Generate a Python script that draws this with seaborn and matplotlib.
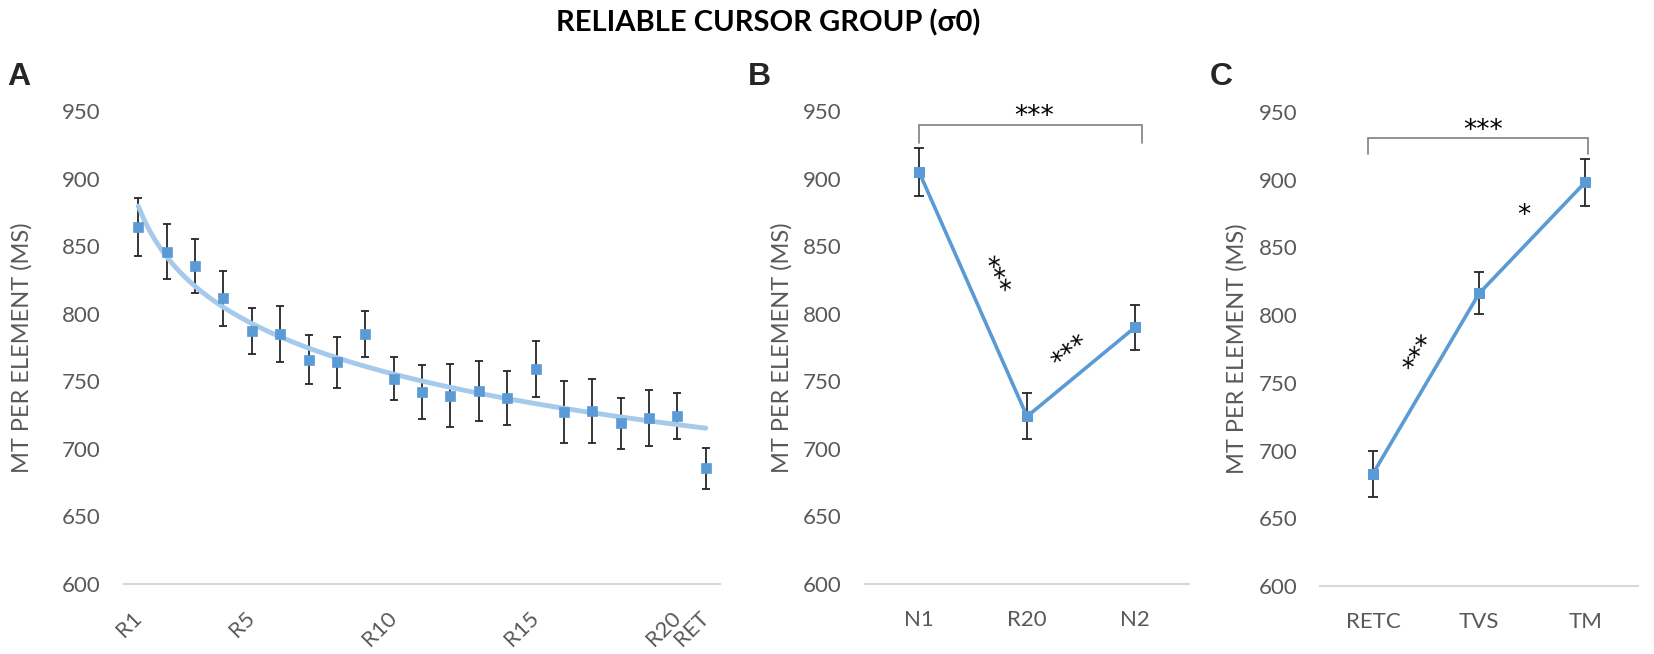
import numpy as np
import pandas as pd
import seaborn as sns
import matplotlib.pyplot as plt

# panel A: practice rounds + retention
rounds = ['R1', 'R2', 'R3', 'R4', 'R5', 'R6', 'R7', 'R8', 'R9', 'R10', 'R11',
          'R12', 'R13', 'R14', 'R15', 'R16', 'R17', 'R18', 'R19', 'R20', 'RET']
rounds_mt = [864, 846, 835, 811.5, 787, 785, 766, 764, 785, 752, 742,
             739.5, 743, 738, 759, 727, 728, 719, 723, 724, 685.5]
rounds_err = [21.5, 20.5, 20, 20.5, 17, 21, 18, 19, 17, 16, 20,
              23, 22, 20, 20.5, 23, 24, 19, 20.5, 17, 15]
shown_rounds = ['R1', 'R5', 'R10', 'R15', 'R20', 'RET']

# panel B
cond_b = ['N1', 'R20', 'N2']
mt_b = [905, 724, 790]
err_b = [17.5, 17, 16.5]

# panel C
cond_c = ['RETC', 'TVS', 'TM']
mt_c = [683, 816, 898]
err_c = [17, 15.5, 17.5]

sns.set_theme(style='white')
plt.rcParams['font.family'] = ['Lato', 'DejaVu Sans']

BLUE = '#5B9BD5'
TREND = '#A6CAEC'
GREY = '#595959'

fig = plt.figure(figsize=(16.54, 6.54), dpi=100)
ax_a = fig.add_axes([0.0750, 0.1070, 0.3603, 0.7232])
ax_b = fig.add_axes([0.5230, 0.1070, 0.1959, 0.7232])
ax_c = fig.add_axes([0.7981, 0.1040, 0.1923, 0.7248])


def style_axes(ax, label_x):
    for s in ['top', 'right', 'left']:
        ax.spines[s].set_visible(False)
    ax.spines['bottom'].set_color('#D9D9D9')
    ax.spines['bottom'].set_linewidth(1.5)
    ax.set_ylim(600, 950)
    ax.set_yticks(range(600, 951, 50))
    ax.tick_params(axis='both', length=0, labelsize=16, labelcolor=GREY)
    ax.tick_params(axis='y', pad=17)
    ax.set_ylabel('MT PER ELEMENT (MS)', fontsize=17, color=GREY)
    ax.yaxis.set_label_coords(label_x, 0.5)
    ax.yaxis.label.set_va('center')
    ax.set_xlabel('')


def stars(ax, x, y, s, rot=0):
    ax.text(x, y, s, fontsize=19, ha='center', va='center', rotation=rot,
            rotation_mode='anchor', color='black', family=['DejaVu Sans'])


def bracket(ax, x0, x1, y, drop):
    ax.plot([x0, x0, x1, x1], [y - drop, y, y, y - drop], color='#7F7F7F',
            lw=1.2, solid_joinstyle='miter')


# ---- A ----
df_a = pd.DataFrame({'x': np.arange(1, len(rounds) + 1), 'mt': rounds_mt, 'err': rounds_err})
ax_a.errorbar(df_a['x'], df_a['mt'], yerr=df_a['err'], fmt='none', ecolor='#262626',
              elinewidth=1.3, capsize=3, capthick=1.3, zorder=2)
sns.regplot(data=df_a, x='x', y='mt', logx=True, ci=None, scatter=False, ax=ax_a,
            line_kws={'color': TREND, 'lw': 3.5, 'zorder': 2.5})
sns.scatterplot(data=df_a, x='x', y='mt', marker='s', s=55, color=BLUE,
                edgecolor=BLUE, linewidth=0.5, ax=ax_a, zorder=3)
ax_a.set_xlim(0.5, len(rounds) + 0.5)
style_axes(ax_a, -0.171)
ax_a.set_xticks([rounds.index(r) + 1 for r in shown_rounds])
ax_a.set_xticklabels(shown_rounds, rotation=45, ha='right', va='center',
                     rotation_mode='anchor')
ax_a.tick_params(axis='x', pad=22)

# ---- B ----
df_b = pd.DataFrame({'x': np.arange(len(cond_b)), 'mt': mt_b, 'err': err_b})
ax_b.errorbar(df_b['x'], df_b['mt'], yerr=df_b['err'], fmt='none', ecolor='#262626',
              elinewidth=1.3, capsize=3.5, capthick=1.3, zorder=2)
sns.lineplot(data=df_b, x='x', y='mt', color=BLUE, lw=2.6, marker='s', markersize=7.5,
             markeredgecolor=BLUE, ax=ax_b, zorder=3)
ax_b.set_xlim(-0.5, 2.5)
style_axes(ax_b, -0.256)
ax_b.set_xticks(df_b['x'])
ax_b.set_xticklabels(cond_b)
ax_b.tick_params(axis='x', pad=19)
bracket(ax_b, 0.0, 2.06, 939.7, 13.3)
stars(ax_b, 1.065, 945.5, '***')
stars(ax_b, 0.676, 828, '***', rot=-64)
stars(ax_b, 1.41, 771, '***', rot=39)

# ---- C ----
df_c = pd.DataFrame({'x': np.arange(len(cond_c)), 'mt': mt_c, 'err': err_c})
ax_c.errorbar(df_c['x'], df_c['mt'], yerr=df_c['err'], fmt='none', ecolor='#262626',
              elinewidth=1.3, capsize=3.5, capthick=1.3, zorder=2)
sns.lineplot(data=df_c, x='x', y='mt', color=BLUE, lw=2.6, marker='s', markersize=7.5,
             markeredgecolor=BLUE, ax=ax_c, zorder=3)
ax_c.set_xlim(-0.5, 2.5)
style_axes(ax_c, -0.261)
ax_c.tick_params(axis='y', pad=16)
ax_c.set_xticks(df_c['x'])
ax_c.set_xticklabels(cond_c)
ax_c.tick_params(axis='x', pad=19)
bracket(ax_c, -0.05, 2.03, 930.8, 11.8)
stars(ax_c, 1.04, 936, '***')
stars(ax_c, 0.45, 771, '***', rot=60)
stars(ax_c, 1.42, 873, '*')

# title and panel letters
fig.text(0.4643, 0.965, 'RELIABLE CURSOR GROUP (σ0)', fontsize=21, fontweight='bold',
         ha='center', va='center', color='black')
for letter, xpx in [('A', 7), ('B', 748), ('C', 1210)]:
    fig.text(xpx / 1654, 1 - 77 / 654, letter, fontsize=23, fontweight='bold',
             family=['Liberation Sans', 'DejaVu Sans'], ha='left', va='center')

fig.savefig('out.png', dpi=100)
